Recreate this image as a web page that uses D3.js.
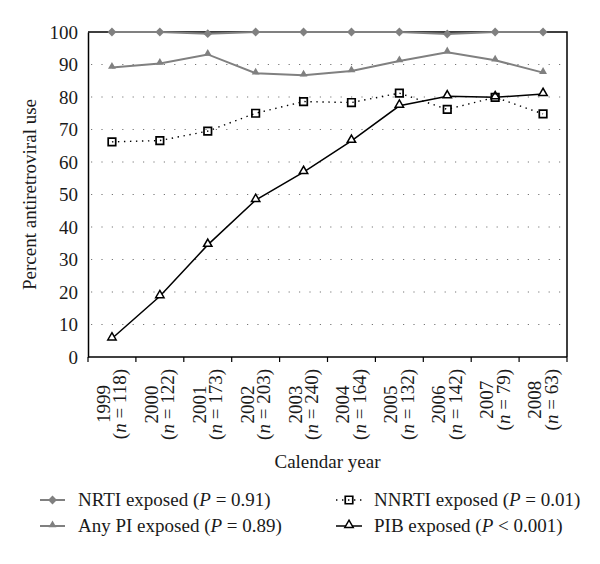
<!DOCTYPE html>
<html>
<head>
<meta charset="utf-8">
<script src="https://cdn.jsdelivr.net/npm/d3@7"></script>
<style>
  html, body { margin: 0; padding: 0; background: #fff; }
  text { font-family: "Liberation Serif", "DejaVu Serif", serif; fill: #1a1a1a; }
</style>
</head>
<body>
<svg id="chart" width="600" height="564"></svg>
<script>
const years = ["1999","2000","2001","2002","2003","2004","2005","2006","2007","2008"];
const nCounts = [118,122,173,203,240,164,132,142,79,63];
const nrti  = [100,100,99.5,100,100,100,100,99.4,100,100];
const anyPI = [89.1,90.3,93.1,87.3,86.7,88.0,91.1,93.8,91.3,87.5];
const nnrti = [66.2,66.6,69.5,75.0,78.6,78.3,81.2,76.2,79.9,74.8];
const pib   = [5.7,18.7,34.5,48.3,56.9,66.5,77.3,80.2,79.9,80.9];
const yTicks = [0,10,20,30,40,50,60,70,80,90,100];
const gridTicks = [10,20,30,40,50,60,70,80,90];

const svg = d3.select("#chart");
const pL = 88, pR = 567, pT = 32, pB = 357;
const x = d3.scaleBand().domain(years).range([pL, pR]).padding(0);
const y = d3.scaleLinear().domain([0,100]).range([pB, pT]);
const cx = d => x(d) + x.bandwidth()/2;
const gray = "#808080";

// gridlines
svg.append("g").selectAll("line").data(gridTicks).join("line")
  .attr("x1", pL + 3).attr("x2", pR).attr("y1", d => y(d)).attr("y2", d => y(d))
  .attr("stroke", "#777").attr("stroke-width", 1.2).attr("stroke-dasharray", "1.2,9.2");

// frame top and right
svg.append("path")
  .attr("d", `M${pL},${pT}H${pR}V${pB}`)
  .attr("fill", "none").attr("stroke", "#000").attr("stroke-width", 1.5);

// y axis
const yAxis = svg.append("g").attr("transform", `translate(${pL},0)`)
  .call(d3.axisLeft(y).tickValues(yTicks).tickSize(0).tickPadding(10));
yAxis.select(".domain").attr("stroke", "#000").attr("stroke-width", 1.5);
yAxis.selectAll("text").attr("font-size", 19).attr("font-family", "Liberation Serif").attr("fill", "#1a1a1a");

// x axis line and boundary ticks
svg.append("line").attr("x1", pL).attr("x2", pR).attr("y1", pB).attr("y2", pB)
  .attr("stroke", "#000").attr("stroke-width", 1.5);
const bounds = years.map(d => x(d)).concat([x.range()[1]]);
svg.append("g").selectAll("line").data(bounds).join("line")
  .attr("x1", d => d).attr("x2", d => d).attr("y1", pB).attr("y2", pB + 5)
  .attr("stroke", "#000").attr("stroke-width", 1.2);

// x tick labels (rotated, two lines)
const labG = svg.append("g");
years.forEach((yr, i) => {
  const c = cx(yr);
  const topY = 369;
  const t2 = labG.append("text")
    .attr("transform", `translate(${c + 14.5},${topY}) rotate(-90)`)
    .attr("text-anchor", "end").attr("font-size", 19);
  t2.append("tspan").text("(");
  t2.append("tspan").attr("font-style", "italic").text("n");
  t2.append("tspan").text(" = " + nCounts[i] + ")");
  const L = t2.node().getComputedTextLength();
  labG.append("text")
    .attr("transform", `translate(${c - 2},${topY + L/2}) rotate(-90)`)
    .attr("text-anchor", "middle").attr("font-size", 19).text(yr);
});

// axis titles
svg.append("text").attr("x", (pL + pR)/2).attr("y", 468)
  .attr("text-anchor", "middle").attr("font-size", 19).text("Calendar year");
svg.append("text").attr("transform", `translate(36,${(pT + pB)/2}) rotate(-90)`)
  .attr("text-anchor", "middle").attr("font-size", 19).text("Percent antiretroviral use");

const line = d3.line().x((d, i) => cx(years[i])).y(d => y(d));
const diamond = d3.symbol().type(d3.symbolDiamond2).size(50);
const triFilled = d3.symbol().type(d3.symbolTriangle2).size(44);
const triOpen = d3.symbol().type(d3.symbolTriangle2).size(50);
const square = d3.symbol().type(d3.symbolSquare2).size(72);

// NNRTI
svg.append("path").datum(nnrti).attr("d", line).attr("fill", "none")
  .attr("stroke", "#000").attr("stroke-width", 1.4).attr("stroke-dasharray", "1.4,4.6");
// PIB
svg.append("path").datum(pib).attr("d", line).attr("fill", "none")
  .attr("stroke", "#000").attr("stroke-width", 1.5);
// Any PI
svg.append("path").datum(anyPI).attr("d", line).attr("fill", "none")
  .attr("stroke", gray).attr("stroke-width", 2);
// NRTI
svg.append("path").datum(nrti).attr("d", line).attr("fill", "none")
  .attr("stroke", gray).attr("stroke-width", 2);

svg.append("g").selectAll("path").data(anyPI).join("path")
  .attr("transform", (d, i) => `translate(${cx(years[i])},${y(d) - 1})`)
  .attr("d", triFilled).attr("fill", gray);
svg.append("g").selectAll("path").data(nrti).join("path")
  .attr("transform", (d, i) => `translate(${cx(years[i])},${y(d)})`)
  .attr("d", diamond).attr("fill", gray);
svg.append("g").selectAll("path").data(pib).join("path")
  .attr("transform", (d, i) => `translate(${cx(years[i])},${y(d) - 1})`)
  .attr("d", triOpen).attr("fill", "#fff").attr("stroke", "#000").attr("stroke-width", 1.5);
svg.append("g").selectAll("path").data(nnrti).join("path")
  .attr("transform", (d, i) => `translate(${cx(years[i])},${y(d)})`)
  .attr("d", square).attr("fill", "none").attr("stroke", "#000").attr("stroke-width", 1.7);

// legend
const legend = [
  {name:"NRTI exposed", p:"0.91", op:"=", col:0, row:0, kind:"nrti"},
  {name:"Any PI exposed", p:"0.89", op:"=", col:0, row:1, kind:"pi"},
  {name:"NNRTI exposed", p:"0.01", op:"=", col:1, row:0, kind:"nnrti"},
  {name:"PIB exposed", p:"0.001", op:"<", col:1, row:1, kind:"pib"}
];
const colX = [40, 336], rowY = [500, 526];
legend.forEach(l => {
  const x0 = colX[l.col], yy = rowY[l.row];
  const g = svg.append("g");
  if (l.kind === "nrti" || l.kind === "pi") {
    g.append("line").attr("x1", x0).attr("x2", x0 + 25).attr("y1", yy).attr("y2", yy)
      .attr("stroke", gray).attr("stroke-width", 2);
    g.append("path").attr("transform", `translate(${x0 + 12.5},${yy - (l.kind === "pi" ? 1 : 0)})`)
      .attr("d", l.kind === "nrti" ? diamond : triFilled).attr("fill", gray);
  } else if (l.kind === "nnrti") {
    g.append("line").attr("x1", x0).attr("x2", x0 + 26).attr("y1", yy).attr("y2", yy)
      .attr("stroke", "#000").attr("stroke-width", 1.4).attr("stroke-dasharray", "1.4,4.6");
    g.append("path").attr("transform", `translate(${x0 + 13},${yy})`)
      .attr("d", square).attr("fill", "none").attr("stroke", "#000").attr("stroke-width", 1.7);
  } else {
    g.append("line").attr("x1", x0).attr("x2", x0 + 26).attr("y1", yy).attr("y2", yy)
      .attr("stroke", "#000").attr("stroke-width", 1.5);
    g.append("path").attr("transform", `translate(${x0 + 13},${yy - 1})`)
      .attr("d", triOpen).attr("fill", "#fff").attr("stroke", "#000").attr("stroke-width", 1.5);
  }
  const t = g.append("text").attr("x", x0 + 38).attr("y", yy + 6).attr("font-size", 19);
  t.append("tspan").text(l.name + " (");
  t.append("tspan").attr("font-style", "italic").text("P");
  t.append("tspan").text(` ${l.op} ${l.p})`);
});
</script>
</body>
</html>
